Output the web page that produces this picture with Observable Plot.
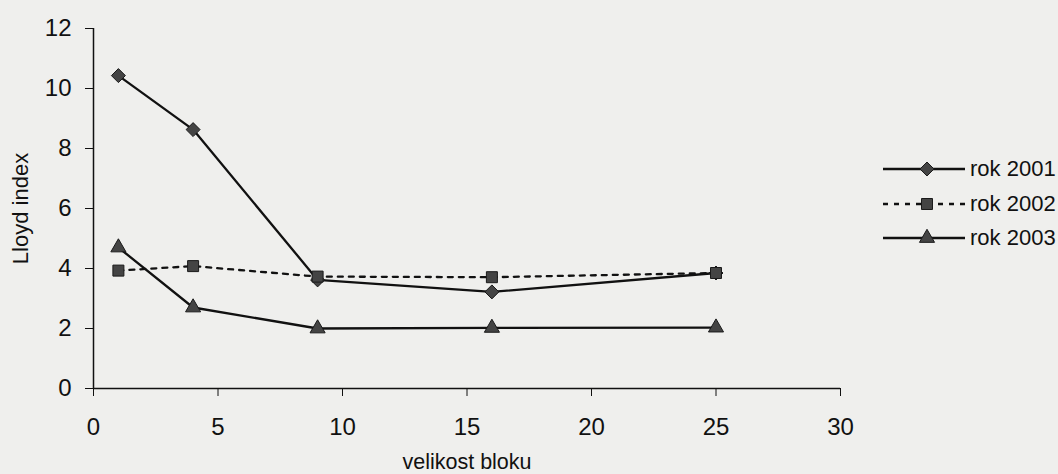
<!DOCTYPE html>
<html>
<head>
<meta charset="utf-8">
<script src="https://cdn.jsdelivr.net/npm/d3@7"></script>
<script src="https://cdn.jsdelivr.net/npm/@observablehq/plot@0.6"></script>
<style>
  html, body { margin: 0; padding: 0; background: #efefed; }
  #wrap { position: relative; width: 1058px; height: 474px; font-family: "Liberation Sans", Arial, sans-serif; color: #111; }
  #legend { position: absolute; left: 880px; top: 152px; }
  .row { display: flex; align-items: center; height: 34.5px; }
  .row span { font-size: 22px; margin-left: 2px; }
</style>
</head>
<body>
<div id="wrap"><div id="legend"></div></div>
<script>
// ---- data ----
const blockSizes = [1, 4, 9, 16, 25];
const rok2001 = [10.43, 8.63, 3.62, 3.22, 3.85];
const rok2002 = [3.93, 4.08, 3.73, 3.71, 3.85];
const rok2003 = [4.70, 2.70, 2.00, 2.02, 2.03];
const seriesNames = ["rok 2001", "rok 2002", "rok 2003"];
const xTicks = [0, 5, 10, 15, 20, 25, 30];
const yTicks = [0, 2, 4, 6, 8, 10, 12];
const xLabel = "velikost bloku";
const yLabel = "Lloyd index";

// ---- styles ----
const styles = [
  {symbol: "diamond2", d3sym: d3.symbolDiamond2, r: 6.3, dash: null},
  {symbol: "square", d3sym: d3.symbolSquare, r: 6.2, dash: "5,6"},
  {symbol: "triangle", d3sym: d3.symbolTriangle, r: 5.6, dash: null}
];
const seriesValues = [rok2001, rok2002, rok2003];
const tables = seriesValues.map((vals, k) =>
  blockSizes.map((x, i) => ({x, y: vals[i], series: seriesNames[k]})));

const markFill = "#444", markStroke = "#1a1a1a", lineColor = "#111";

const marks = [
  Plot.ruleY([0], {stroke: lineColor, strokeWidth: 1.5}),
  Plot.ruleX([0], {stroke: lineColor, strokeWidth: 1.5})
];
tables.forEach((t, k) => {
  marks.push(Plot.line(t, {x: "x", y: "y", stroke: lineColor, strokeWidth: 2.3,
    strokeDasharray: styles[k].dash || undefined}));
});
tables.forEach((t, k) => {
  marks.push(Plot.dot(t, {x: "x", y: "y", symbol: styles[k].symbol, r: styles[k].r,
    fill: markFill, stroke: markStroke, strokeWidth: 1}));
});
marks.push(Plot.text([xLabel], {frameAnchor: "bottom", lineAnchor: "middle", dy: 74, fontSize: 21.5, fill: "#111"}));
marks.push(Plot.text([yLabel], {frameAnchor: "left", textAnchor: "middle", lineAnchor: "middle", dx: -73, rotate: -90, fontSize: 22, fill: "#111"}));

const chart = Plot.plot({
  width: 1058,
  height: 474,
  marginLeft: 93,
  marginRight: 218,
  marginTop: 28,
  marginBottom: 86,
  style: {background: "transparent", fontSize: "24px", fontFamily: "'Liberation Sans', Arial, sans-serif", color: "#111"},
  x: {domain: [0, 30], ticks: xTicks, tickSize: 8, tickPadding: 21, label: null},
  y: {domain: [0, 12], ticks: yTicks, tickSize: 8, tickPadding: 14, label: null},
  marks
});
document.getElementById("wrap").prepend(chart);

// ---- legend ----
const legend = d3.select("#legend");
seriesNames.forEach((name, k) => {
  const row = legend.append("div").attr("class", "row");
  const svg = row.append("svg").attr("width", 88).attr("height", 20);
  svg.append("line").attr("x1", 3).attr("x2", 85).attr("y1", 10).attr("y2", 10)
    .attr("stroke", lineColor).attr("stroke-width", 2.3)
    .attr("stroke-dasharray", styles[k].dash);
  const size = Math.PI * styles[k].r * styles[k].r;
  svg.append("path").attr("transform", "translate(47,10)")
    .attr("d", d3.symbol(styles[k].d3sym, size)())
    .attr("fill", markFill).attr("stroke", markStroke);
  row.append("span").text(name);
});
</script>
</body>
</html>
